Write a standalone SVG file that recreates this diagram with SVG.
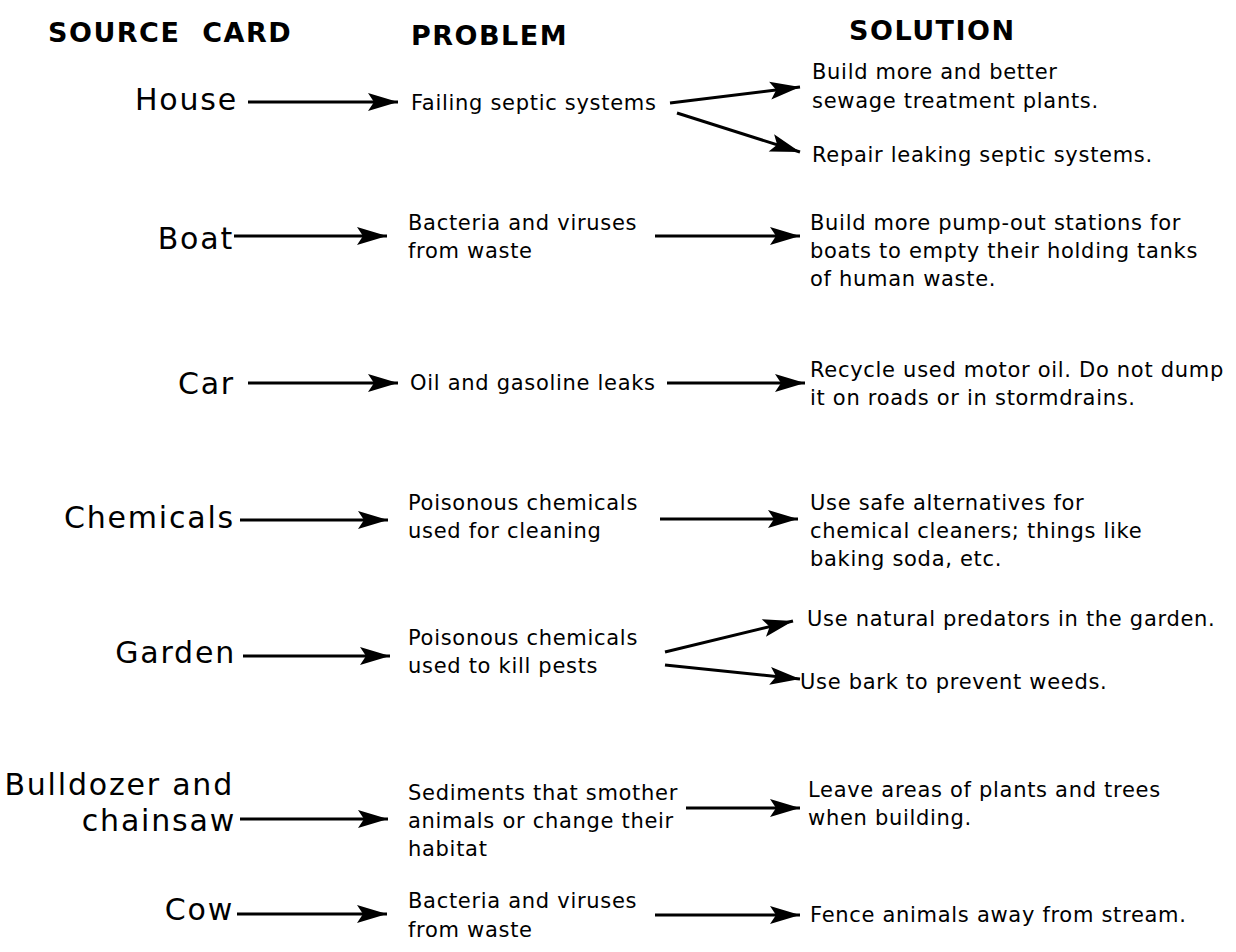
<svg xmlns="http://www.w3.org/2000/svg" width="1236" height="952" viewBox="0 0 1236 952">
<style>
.h{font-family:"DejaVu Sans",sans-serif;font-weight:bold;font-size:27px;fill:#000;letter-spacing:1.5px}
.src{font-family:"DejaVu Sans",sans-serif;font-size:30px;fill:#000;text-anchor:end;letter-spacing:1.8px}
.t{font-family:"DejaVu Sans",sans-serif;font-size:21px;fill:#000;letter-spacing:0.7px}
.c line{stroke:#000;stroke-width:3;marker-end:url(#ah)}
</style>
<defs>
<marker id="ah" markerUnits="userSpaceOnUse" markerWidth="32" markerHeight="20" refX="30" refY="9" orient="auto" overflow="visible">
<path d="M0,0 L30,9 L0,18 L6,9 Z" fill="#000"/>
</marker>
</defs>
<rect width="1236" height="952" fill="#fff"/>
<g id="headers">
<text class="h" x="48" y="42">SOURCE&#160; CARD</text>
<text class="h" x="411" y="45">PROBLEM</text>
<text class="h" x="849" y="40">SOLUTION</text>
</g>
<g id="house"><text class="src" x="238" y="110">House</text></g>
<g id="p-house"><text class="t" x="411" y="110">Failing septic systems</text></g>
<g id="s-house1"><text class="t" x="812" y="79">Build more and better</text><text class="t" x="812" y="108">sewage treatment plants.</text></g>
<g id="s-house2"><text class="t" x="812" y="162">Repair leaking septic systems.</text></g>
<g id="boat"><text class="src" x="234" y="249">Boat</text></g>
<g id="p-boat"><text class="t" x="408" y="230">Bacteria and viruses</text><text class="t" x="408" y="258">from waste</text></g>
<g id="s-boat"><text class="t" x="810" y="230">Build more pump-out stations for</text><text class="t" x="810" y="258">boats to empty their holding tanks</text><text class="t" x="810" y="286">of human waste.</text></g>
<g id="car"><text class="src" x="235" y="394">Car</text></g>
<g id="p-car"><text class="t" x="410" y="390">Oil and gasoline leaks</text></g>
<g id="s-car"><text class="t" x="810" y="377">Recycle used motor oil. Do not dump</text><text class="t" x="810" y="405">it on roads or in stormdrains.</text></g>
<g id="chemicals"><text class="src" x="235" y="528">Chemicals</text></g>
<g id="p-chemicals"><text class="t" x="408" y="510">Poisonous chemicals</text><text class="t" x="408" y="538">used for cleaning</text></g>
<g id="s-chemicals"><text class="t" x="810" y="510">Use safe alternatives for</text><text class="t" x="810" y="538">chemical cleaners; things like</text><text class="t" x="810" y="566">baking soda, etc.</text></g>
<g id="garden"><text class="src" x="236" y="663">Garden</text></g>
<g id="p-garden"><text class="t" x="408" y="645">Poisonous chemicals</text><text class="t" x="408" y="673">used to kill pests</text></g>
<g id="s-garden1"><text class="t" x="807" y="626">Use natural predators in the garden.</text></g>
<g id="s-garden2"><text class="t" x="800" y="689">Use bark to prevent weeds.</text></g>
<g id="bulldozer"><text class="src" x="234" y="795">Bulldozer and</text><text class="src" x="236" y="831">chainsaw</text></g>
<g id="p-bulldozer"><text class="t" x="408" y="800">Sediments that smother</text><text class="t" x="408" y="828">animals or change their</text><text class="t" x="408" y="856">habitat</text></g>
<g id="s-bulldozer"><text class="t" x="808" y="797">Leave areas of plants and trees</text><text class="t" x="808" y="825">when building.</text></g>
<g id="cow"><text class="src" x="234" y="920">Cow</text></g>
<g id="p-cow"><text class="t" x="408" y="908">Bacteria and viruses</text><text class="t" x="408" y="937">from waste</text></g>
<g id="s-cow"><text class="t" x="810" y="922">Fence animals away from stream.</text></g>
<g id="connectors" class="c">
<line x1="248" y1="102" x2="398" y2="102"/>
<line x1="670" y1="103" x2="800" y2="87"/>
<line x1="677" y1="113" x2="800" y2="152"/>
<line x1="234" y1="236" x2="387" y2="236"/>
<line x1="655" y1="236" x2="800" y2="236"/>
<line x1="248" y1="383" x2="398" y2="383"/>
<line x1="667" y1="383" x2="805" y2="383"/>
<line x1="240" y1="520" x2="388" y2="520"/>
<line x1="660" y1="519" x2="798" y2="519"/>
<line x1="243" y1="656" x2="390" y2="656"/>
<line x1="665" y1="652" x2="793" y2="621"/>
<line x1="665" y1="665" x2="800" y2="679"/>
<line x1="240" y1="819" x2="388" y2="819"/>
<line x1="686" y1="808" x2="800" y2="808"/>
<line x1="237" y1="914" x2="387" y2="914"/>
<line x1="655" y1="915" x2="800" y2="915"/>
</g>
</svg>
